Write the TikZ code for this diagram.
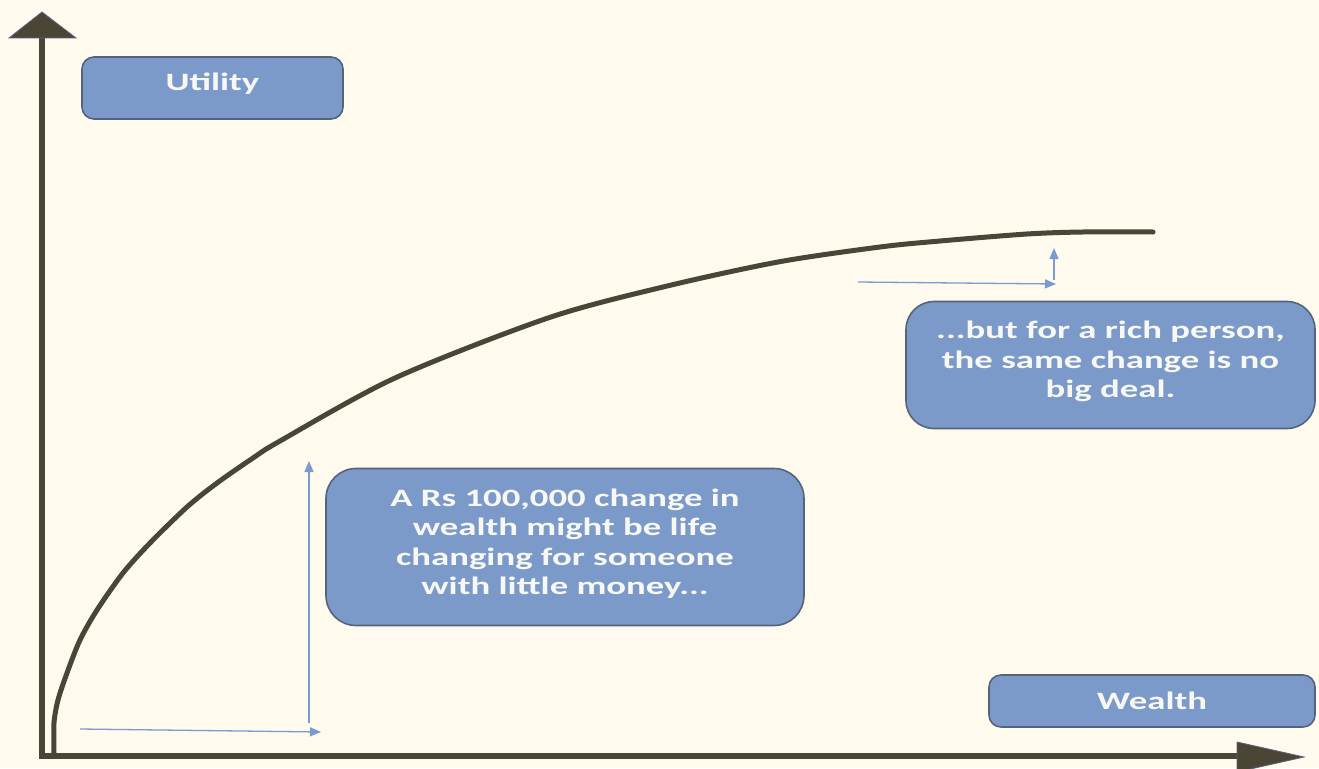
\documentclass[tikz,border=0pt]{standalone}
\usepackage{fontspec}
\usetikzlibrary{arrows.meta}
\newfontfamily\boxfont{Carlito}[FakeStretch=1.47]
\definecolor{bgcol}{HTML}{FEFAEE}
\definecolor{axiscol}{HTML}{4B4536}
\definecolor{boxfill}{HTML}{7B99C9}
\definecolor{boxdraw}{HTML}{56647A}
\definecolor{txtcol}{HTML}{F8F8F2}
\definecolor{arrcol}{HTML}{7B9BD0}
\tikzset{
  lbl/.style={draw=boxdraw, line width=1.6pt, fill=boxfill, text=txtcol, align=center,
    font={\boxfont\bfseries\fontsize{25}{29.5}\selectfont}, inner sep=0pt},
  axisline/.style={draw=axiscol, line width=6pt},
  axishead/.style={fill=axiscol, draw=boxdraw, line width=0.8pt},
  blue/.style={draw=arrcol, line width=1.3pt, -{Triangle[length=11pt,width=9pt]}}
}
\begin{document}
\begin{tikzpicture}[x=1pt,y=-1pt]
\fill[bgcol] (0,0) rectangle (1319,768);
\useasboundingbox (0,0) rectangle (1319,768);
% axes
\draw[axisline] (42,756) -- (42,36);
\draw[axisline] (39,756) -- (1239,756);
\filldraw[axishead] (9,38) -- (76,38) -- (42,12) -- cycle;
\filldraw[axishead] (1237,742) -- (1304,757) -- (1237,772) -- cycle;
% curve
\draw[axiscol, line width=5pt, line cap=round, line join=round] plot[smooth, tension=0.5] coordinates {
 (54,753) (54,723) (58,700) (67,673) (80,640) (97,610) (123,573) (150,543)
 (187,507) (217,483) (253,458) (280,441) (395,378) (548,318) (663,287)
 (778,262) (880,247) (940,241) (1027,234) (1083,232) (1153,232)};
% boxes
\node[lbl, rounded corners=12pt, minimum width=261pt, minimum height=62pt, text depth=13pt] (util) at (212.5,88) {Utility};
\node[lbl, rounded corners=30pt, minimum width=478pt, minimum height=157pt, text depth=11pt] (poor) at (565,547)
  {A Rs 100,000 change in\\wealth might be life\\changing for someone\\with little money...};
\node[lbl, rounded corners=28pt, minimum width=409pt, minimum height=127pt, text depth=11pt] (rich) at (1110.5,365)
  {...but for a rich person,\\the same change is no\\big deal.};
\node[lbl, rounded corners=12pt, minimum width=326pt, minimum height=52pt] (wealth) at (1152,701) {Wealth};
% blue arrows
\coordinate (p1) at (80,729);
\coordinate (p2) at (321,732);
\coordinate (p3) at (309,723);
\coordinate (p4) at (309,461);
\coordinate (r1) at (858,282);
\coordinate (r2) at (1056,284);
\coordinate (r3) at (1054,280);
\coordinate (r4) at (1054,248);
\draw[blue] (p1) -- (p2);
\draw[blue] (p3) -- (p4);
\draw[blue] (r1) -- (r2);
\draw[blue] (r3) -- (r4);
\end{tikzpicture}
\end{document}
